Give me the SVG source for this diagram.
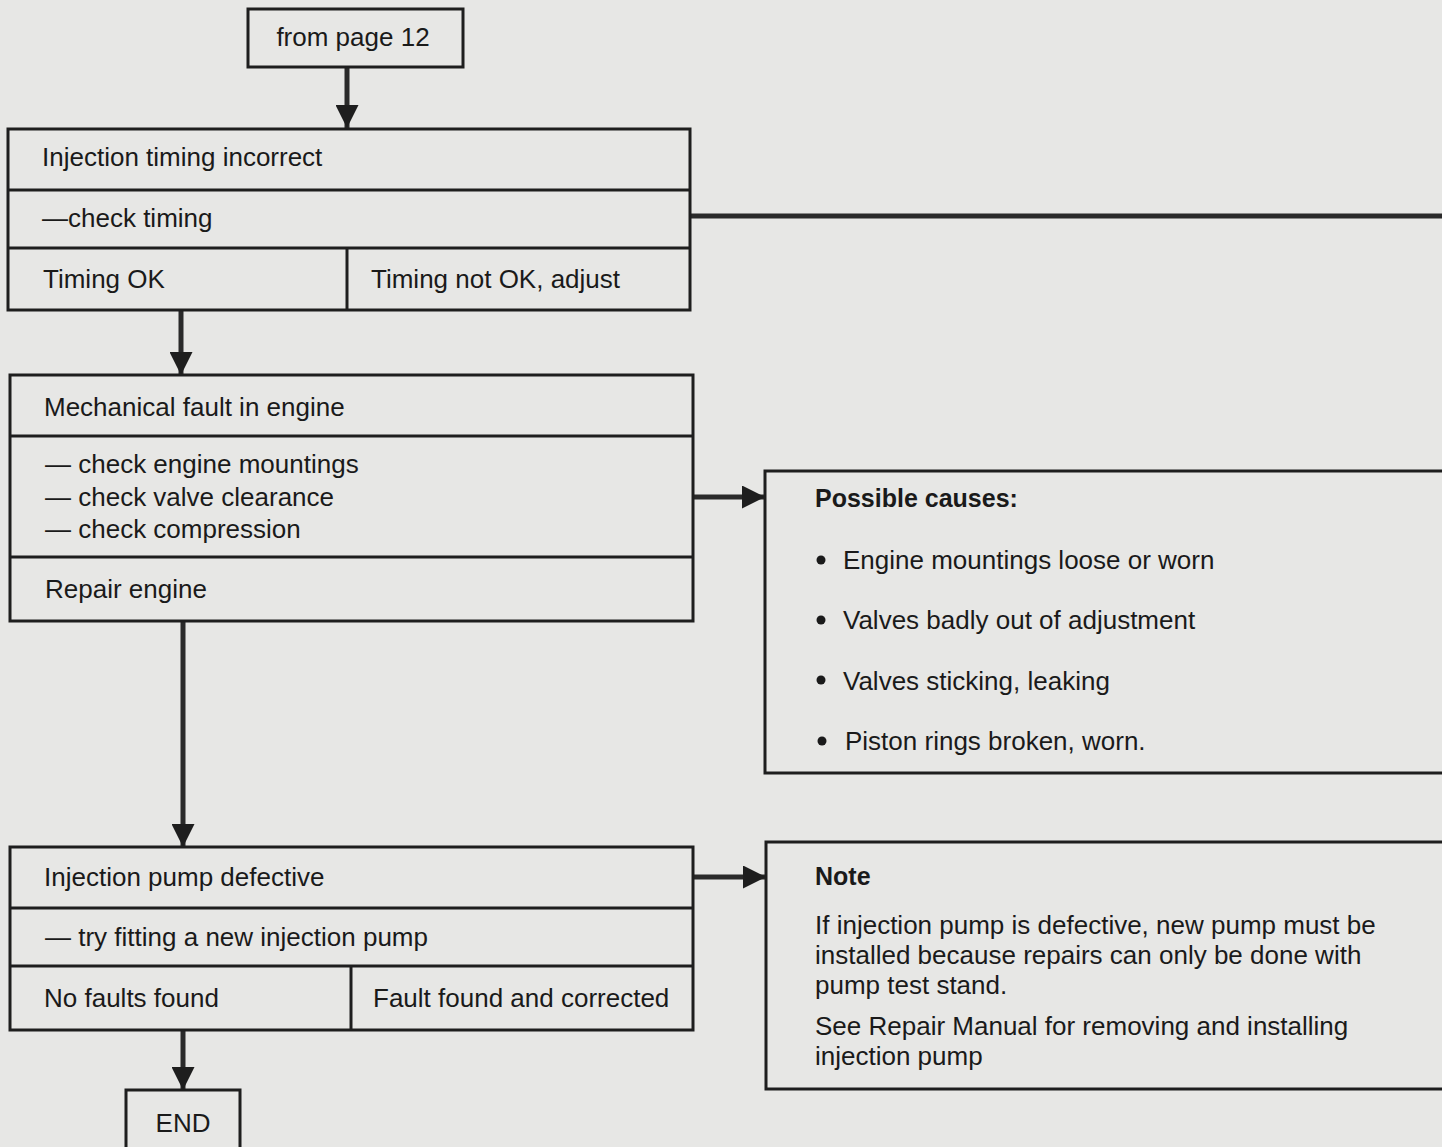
<svg xmlns="http://www.w3.org/2000/svg" width="1442" height="1147" viewBox="0 0 1442 1147">
  <style>
    .box { fill: none; stroke: #1e1e1e; stroke-width: 3; }
    .div { stroke: #1e1e1e; stroke-width: 3; fill: none; }
    .t { font-family: "Liberation Sans", Arial, sans-serif; font-size: 26px; fill: #1a1a1a; }
    .b { font-weight: bold; font-size: 25px; }
    .mid { text-anchor: middle; }
    .wire { stroke: #2a2a2a; stroke-width: 5; fill: none; }
  </style>
  <defs>
    <marker id="head" viewBox="0 0 10 10" refX="10" refY="5" markerWidth="7" markerHeight="4.6" markerUnits="strokeWidth" orient="auto">
      <path d="M0,0 L10,5 L0,10 Z" fill="#1e1e1e"/>
    </marker>
  </defs>

  <rect x="0" y="0" width="1442" height="1147" fill="#e7e7e5"/>

  <g id="connectors">
    <line class="wire" x1="347" y1="67" x2="347" y2="128" marker-end="url(#head)"/>
    <line class="wire" x1="181" y1="310" x2="181" y2="375" marker-end="url(#head)"/>
    <line class="wire" x1="690" y1="216" x2="1442" y2="216"/>
    <line class="wire" x1="693" y1="497" x2="765" y2="497" marker-end="url(#head)"/>
    <line class="wire" x1="183" y1="622" x2="183" y2="847" marker-end="url(#head)"/>
    <line class="wire" x1="693" y1="877" x2="766" y2="877" marker-end="url(#head)"/>
    <line class="wire" x1="183" y1="1031" x2="183" y2="1090" marker-end="url(#head)"/>
  </g>

  <g id="start">
    <rect class="box" x="248" y="9" width="215" height="58"/>
    <text class="t mid" x="353" y="46">from page 12</text>
  </g>

  <g id="timing">
    <rect class="box" x="8" y="129" width="682" height="181"/>
    <line class="div" x1="8" y1="190" x2="690" y2="190"/>
    <line class="div" x1="8" y1="248" x2="690" y2="248"/>
    <line class="div" x1="347" y1="248" x2="347" y2="310"/>
    <text class="t" x="42" y="166">Injection timing incorrect</text>
    <text class="t" x="42" y="227">—check timing</text>
    <text class="t" x="43" y="288">Timing OK</text>
    <text class="t" x="371" y="288">Timing not OK, adjust</text>
  </g>

  <g id="mechanical">
    <rect class="box" x="10" y="375" width="683" height="246"/>
    <line class="div" x1="10" y1="436" x2="693" y2="436"/>
    <line class="div" x1="10" y1="557" x2="693" y2="557"/>
    <text class="t" x="44" y="416">Mechanical fault in engine</text>
    <text class="t" x="45" y="473">— check engine mountings</text>
    <text class="t" x="45" y="506">— check valve clearance</text>
    <text class="t" x="45" y="538">— check compression</text>
    <text class="t" x="45" y="598">Repair engine</text>
  </g>

  <g id="causes">
    <rect class="box" x="765" y="471" width="690" height="302"/>
    <text class="t b" x="815" y="507">Possible causes:</text>
    <circle cx="821" cy="560" r="4.5" fill="#1a1a1a"/>
    <text class="t" x="843" y="569">Engine mountings loose or worn</text>
    <circle cx="821" cy="620" r="4.5" fill="#1a1a1a"/>
    <text class="t" x="843" y="629">Valves badly out of adjustment</text>
    <circle cx="821" cy="680" r="4.5" fill="#1a1a1a"/>
    <text class="t" x="843" y="690">Valves sticking, leaking</text>
    <circle cx="822" cy="741" r="4.5" fill="#1a1a1a"/>
    <text class="t" x="845" y="750">Piston rings broken, worn.</text>
  </g>

  <g id="pump">
    <rect class="box" x="10" y="847" width="683" height="183"/>
    <line class="div" x1="10" y1="908" x2="693" y2="908"/>
    <line class="div" x1="10" y1="966" x2="693" y2="966"/>
    <line class="div" x1="351" y1="966" x2="351" y2="1030"/>
    <text class="t" x="44" y="886">Injection pump defective</text>
    <text class="t" x="45" y="946">— try fitting a new injection pump</text>
    <text class="t" x="44" y="1007">No faults found</text>
    <text class="t" x="373" y="1007">Fault found and corrected</text>
  </g>

  <g id="note">
    <rect class="box" x="766" y="842" width="690" height="247"/>
    <text class="t b" x="815" y="885">Note</text>
    <text class="t" x="815" y="934">If injection pump is defective, new pump must be</text>
    <text class="t" x="815" y="964">installed because repairs can only be done with</text>
    <text class="t" x="815" y="994">pump test stand.</text>
    <text class="t" x="815" y="1035">See Repair Manual for removing and installing</text>
    <text class="t" x="815" y="1065">injection pump</text>
  </g>

  <g id="end">
    <rect class="box" x="126" y="1090" width="114" height="70"/>
    <text class="t mid" x="183" y="1132">END</text>
  </g>
</svg>
